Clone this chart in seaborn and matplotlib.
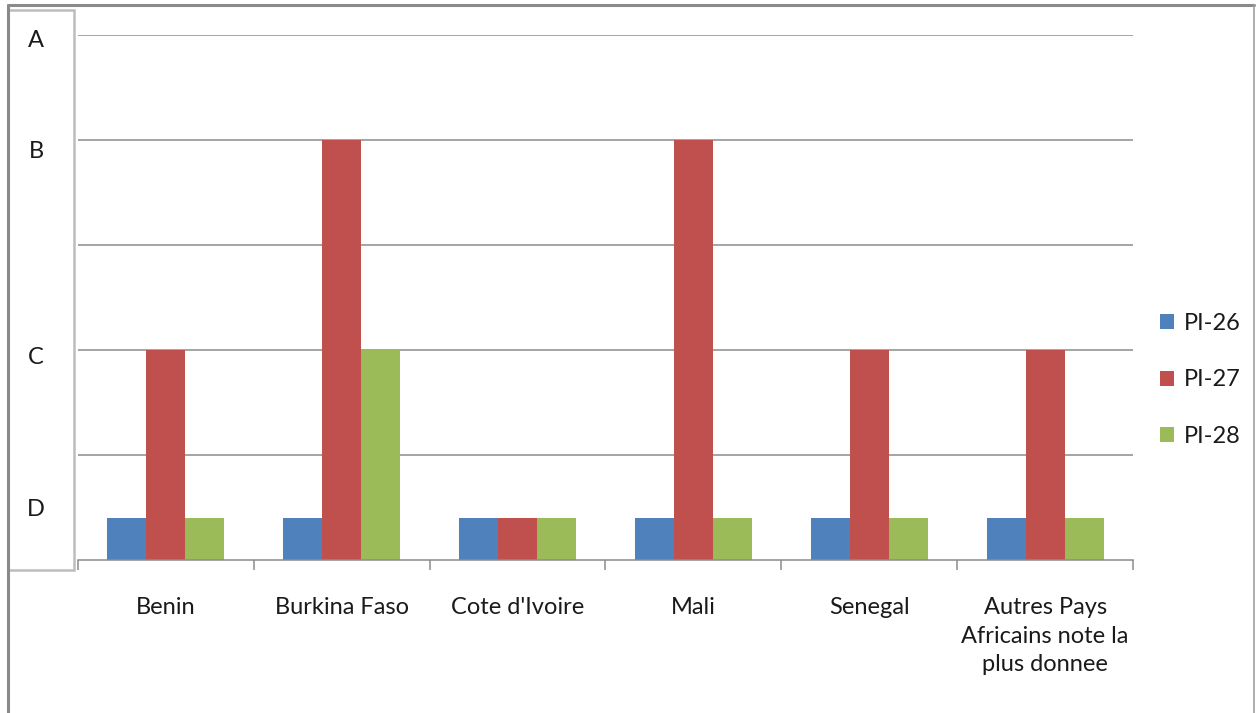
import matplotlib
matplotlib.use("Agg")
import matplotlib.pyplot as plt
from matplotlib.patches import Rectangle
from matplotlib.lines import Line2D
import seaborn as sns
import pandas as pd

# Scores per country, expressed on a 0-5 grade scale (D=0.4, C=2, B=4)
countries = ["Benin", "Burkina Faso", "Cote d'Ivoire", "Mali", "Senegal",
             "Autres Pays\nAfricains note la\nplus donnee"]
pi26 = [0.4, 0.4, 0.4, 0.4, 0.4, 0.4]
pi27 = [2.0, 4.0, 0.4, 4.0, 2.0, 2.0]
pi28 = [0.4, 2.0, 0.4, 0.4, 0.4, 0.4]
series_names = ["PI-26", "PI-27", "PI-28"]
grade_labels = ["A", "B", "C", "D"]
grade_label_pos = [4.95, 3.89, 1.93, 0.48]

colors = ["#4F81BD", "#C0504D", "#9BBB59"]

df = pd.DataFrame({
    "country": countries * 3,
    "indicator": [s for s in series_names for _ in countries],
    "score": pi26 + pi27 + pi28,
})

sns.set_theme(style="white")
plt.rcParams["font.family"] = ["Lato", "DejaVu Sans"]

W, H = 1256, 713
fig = plt.figure(figsize=(W / 100, H / 100), dpi=100)
fig.patch.set_facecolor("white")

x0, x1, y_top, y_axis = 78, 1133, 35, 560
ax = fig.add_axes([x0 / W, (H - y_axis) / H, (x1 - x0) / W, (y_axis - y_top) / H])

sns.barplot(data=df, x="country", y="score", hue="indicator",
            palette=colors, width=0.665, gap=0, saturation=1,
            edgecolor="none", linewidth=0, legend=False, ax=ax)

ax.set_ylim(0, 5)
ax.set_xlim(-0.5, len(countries) - 0.5)
ax.set_yticks([1, 2, 3, 4, 5])
ax.set_yticklabels([])
ax.tick_params(axis="y", length=0)
ax.yaxis.grid(True, color="#8C8C8C", linewidth=1.1)
ax.set_axisbelow(True)
ax.set_xlabel("")
ax.set_ylabel("")
for side in ["top", "right", "left"]:
    ax.spines[side].set_visible(False)
ax.spines["bottom"].set_color("#8C8C8C")
ax.spines["bottom"].set_linewidth(1.1)

ax.set_xticks(range(len(countries)))
ax.set_xticklabels(countries, fontsize=17, color="#1a1a1a", linespacing=1.42,
                   va="top")
ax.tick_params(axis="x", which="major", length=0, pad=27)
ax.set_xticks([i - 0.5 for i in range(len(countries) + 1)], minor=True)
ax.tick_params(axis="x", which="minor", bottom=True, length=7.5, width=1.1,
               color="#8C8C8C", direction="out")

# Outer chart frame
fig.add_artist(Line2D([8 / W, 1254 / W], [1 - 5 / H, 1 - 5 / H],
                      transform=fig.transFigure, color="#8A8A8A", linewidth=2.2))
fig.add_artist(Line2D([8 / W, 8 / W], [0, 1 - 5 / H],
                      transform=fig.transFigure, color="#8A8A8A", linewidth=2.2))
fig.add_artist(Line2D([1254 / W, 1254 / W], [0, 1 - 5 / H],
                      transform=fig.transFigure, color="#A0A0A0", linewidth=1.2))

# Grade label box on the left
fig.add_artist(Rectangle((8 / W, (H - 570) / H), 66 / W, 560 / H,
                         transform=fig.transFigure, facecolor="white",
                         edgecolor="#BDBDBD", linewidth=1.8))
for lab, yv in zip(grade_labels, grade_label_pos):
    ypx = y_axis - yv * (y_axis - y_top) / 5
    fig.text(36 / W, 1 - ypx / H, lab, fontsize=17, color="#1a1a1a",
             ha="center", va="center")

# Legend
handles = [Rectangle((0, 0), 1, 1, facecolor=c, edgecolor="none") for c in colors]
fig.legend(handles, series_names, loc="center left",
           bbox_to_anchor=(1139 / W, 1 - 380 / H), frameon=False,
           fontsize=17, labelspacing=1.5, handlelength=0.6, handleheight=0.6,
           handletextpad=0.4, labelcolor="#1a1a1a")

fig.savefig("out.png", dpi=100, facecolor="white")
